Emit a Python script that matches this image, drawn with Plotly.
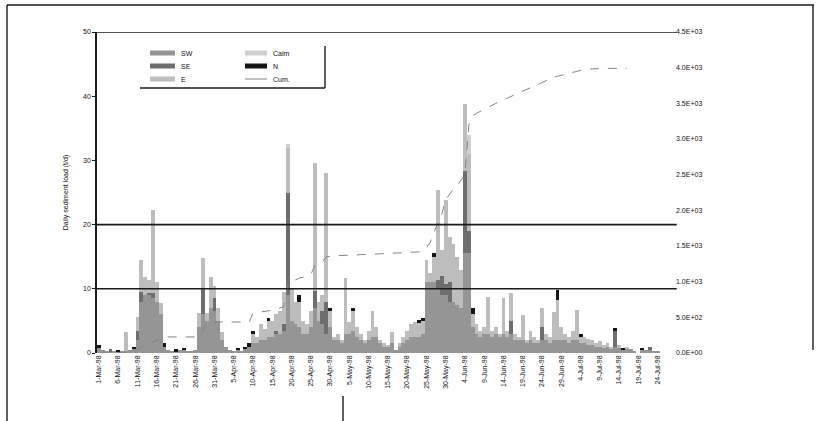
import plotly.graph_objects as go

# ---------------- data ----------------
n_days = 150
days = list(range(n_days))

tick_idx = list(range(0, 150, 5))
tick_labels = ["1-Mar-98", "6-Mar-98", "11-Mar-98", "16-Mar-98", "21-Mar-98", "26-Mar-98",
               "31-Mar-98", "5-Apr-98", "10-Apr-98", "15-Apr-98", "20-Apr-98", "25-Apr-98",
               "30-Apr-98", "5-May-98", "10-May-98", "15-May-98", "20-May-98", "25-May-98",
               "30-May-98", "4-Jun-98", "9-Jun-98", "14-Jun-98", "19-Jun-98", "24-Jun-98",
               "29-Jun-98", "4-Jul-98", "9-Jul-98", "14-Jul-98", "19-Jul-98", "24-Jul-98"]

s1 = [0.8, 0.4, 0.2, 0.3, 0.3, 0.3, 0.2, 0.3, 0.5, 0.6,
      2.0, 8, 9, 9, 8.5, 8, 6, 1.0, 0.5, 0.2,
      0.3, 0.4, 0.4, 0.3, 0.2, 0.5, 4, 6, 5, 7,
      6.5, 5, 2, 1, 0.4, 0.2, 0.4, 0.3, 0.6, 1,
      1.5, 1.5, 2, 2, 2.5, 2.5, 3, 3, 3.5, 9,
      5, 4.5, 4, 3, 3, 4, 7, 5, 4.5, 3,
      4, 2, 2, 1.5, 3, 3, 3.5, 2.5, 2, 1.5,
      2, 2.5, 2.5, 1.5, 1, 1, 1.5, 0.5, 1, 1.5,
      2, 2.5, 2.5, 2.5, 3, 11, 11, 11, 10, 9,
      9, 8, 8, 7.5, 7, 15.6, 15.6, 4, 3, 2.5,
      3, 3, 2.5, 3, 2.5, 3, 2.5, 3, 2, 2,
      2, 1.5, 2, 1.5, 1.5, 2, 2, 1.5, 2, 2,
      2, 2, 1.5, 2, 2, 1.5, 1.5, 1.2, 1.2, 1,
      1, 0.8, 1, 0.7, 1, 0.8, 0.5, 0.6, 0.6, 0.3,
      0, 0.5, 0.5, 0.4, 0.3, 0.2, 0, 0, 0, 0]

s2 = [0, 0, 0, 0.3, 0, 0, 0, 0, 0, 0,
      1.5, 1.5, 0, 0.4, 0.8, 0, 0, 0, 0, 0,
      0, 0, 0, 0, 0, 0, 0, 4, 0, 0,
      2, 0, 0, 0, 0, 0, 0, 0, 0, 0,
      0, 0, 0, 0, 0, 0, 0.5, 0, 1, 16,
      0, 0, 0, 0, 0, 0, 2.6, 0, 2, 5,
      0, 0, 0, 0, 0, 0, 0, 0, 0, 0,
      0, 0, 0, 0, 0, 0, 0, 0, 0, 0,
      0, 0, 0, 0, 0, 0, 0, 0, 1.4, 3,
      1.8, 3, 0, 0, 0, 12.8, 3.4, 0, 0, 0,
      0, 0, 0, 0, 0, 0, 0, 2, 0, 0,
      0, 0, 0, 0, 0, 2, 0, 0, 0, 0,
      0, 0, 0, 0, 0, 0, 0, 0, 0, 0,
      0, 0, 0, 0, 2.4, 0, 0, 0, 0, 0,
      0, 0, 0, 0.6, 0, 0, 0, 0, 0, 0]

s3 = [0, 0, 0, 0, 0, 0, 0, 3.0, 0, 0,
      2.1, 5, 2.8, 2.0, 13, 3, 1.8, 0, 0, 0,
      0, 0, 0, 0, 0, 0, 2.2, 4.8, 1.2, 4.8,
      2, 2, 1.3, 0, 0, 0, 0, 0, 0, 0,
      1.5, 1, 2.5, 1.8, 2.5, 2.5, 2.5, 3.5, 5, 7,
      5, 3.5, 4, 2, 1.5, 2.5, 20, 3, 2.5, 20,
      2.5, 0.5, 1, 0.5, 8.7, 1.8, 3, 1.5, 1, 0.5,
      1.5, 4, 1.5, 0.5, 0.5, 0.2, 1.8, 0, 0.5, 1,
      1.5, 2, 2.3, 2.2, 2, 3.5, 1.5, 4, 14, 4,
      13, 7, 9, 7.5, 6, 10.4, 12, 2, 1.5, 1,
      1, 5.7, 1, 1, 0.5, 5.6, 1, 4.3, 1, 0.5,
      3.9, 0.5, 1.5, 1, 0.5, 3, 1, 1, 4.4, 6.3,
      2, 1, 1, 1.5, 4.7, 1, 1, 1, 0.8, 0.5,
      0.8, 0.4, 0.5, 0.3, 0, 0.4, 0, 0.4, 0, 0,
      0, 0, 0, 0, 0, 0, 0, 0, 0, 0]

s4 = [0, 0, 0, 0, 0, 0, 0, 0, 0, 0,
      0, 0, 0, 0, 0, 0, 0, 0, 0, 0,
      0, 0, 0, 0, 0, 0, 0, 0, 0, 0,
      0, 0, 0, 0, 0, 0, 0, 0, 0, 0,
      0, 0, 0, 0, 0, 0, 0, 0, 0, 0.5,
      0, 0, 0, 0, 0, 0, 0, 0, 0, 0,
      0, 0, 0, 0, 0, 0, 0, 0, 0, 0,
      0, 0, 0, 0, 0, 0, 0, 0, 0, 0,
      0, 0, 0, 0, 0, 0, 0, 0, 0, 0,
      0, 0, 0, 0, 0, 0, 3, 0, 0, 0,
      0, 0, 0, 0, 0, 0, 0, 0, 0, 0,
      0, 0, 0, 0, 0, 0, 0, 0, 0, 0,
      0, 0, 0, 0, 0, 0, 0, 0, 0, 0,
      0, 0, 0, 0, 0, 0, 0, 0, 0, 0,
      0, 0, 0, 0, 0, 0, 0, 0, 0, 0]

s5 = [0.4, 0, 0, 0, 0, 0.2, 0, 0, 0, 0.4,
      0, 0, 0, 0, 0, 0, 0, 0.5, 0, 0,
      0.3, 0, 0.4, 0, 0, 0, 0, 0, 0, 0,
      0, 0, 0, 0, 0, 0, 0.4, 0, 0.4, 0.5,
      0.5, 0, 0, 0, 0.5, 0, 0, 0, 0, 0,
      0, 0, 1, 0, 0, 0, 0, 0, 0, 0,
      0.5, 0, 0, 0, 0, 0, 0.5, 0, 0, 0,
      0, 0, 0, 0, 0, 0, 0, 0, 0, 0,
      0, 0, 0, 0.5, 0.5, 0, 0, 0.5, 0, 0,
      0, 0, 0, 0, 0, 0, 0, 1, 0, 0,
      0, 0, 0, 0, 0, 0, 0, 0, 0, 0,
      0, 0, 0, 0, 0, 0, 0, 0, 0, 1.5,
      0, 0, 0, 0, 0, 0.5, 0, 0, 0, 0,
      0, 0, 0, 0, 0.5, 0, 0.3, 0, 0, 0,
      0, 0.3, 0, 0, 0, 0, 0, 0, 0, 0]

cumulative = [0, 0, 0, 0, 0, 0, 0, 0, 10, 25,
              50, 75, 100, 125, 150, 175, 210, 225, 225, 225,
              225, 225, 225, 225, 225, 225, 250, 325, 435, 435,
              435, 435, 435, 435, 435, 435, 435, 435, 435, 435,
              560, 575, 575, 580, 590, 600, 610, 625, 650, 950,
              1000, 1025, 1050, 1060, 1075, 1100, 1225, 1250, 1275, 1350,
              1360, 1360, 1365, 1365, 1370, 1370, 1375, 1375, 1380, 1380,
              1385, 1385, 1390, 1390, 1395, 1395, 1400, 1400, 1405, 1405,
              1410, 1410, 1415, 1415, 1420, 1475, 1550, 1700, 1825, 1950,
              2150, 2225, 2300, 2350, 2425, 2500, 3200, 3325, 3360, 3390,
              3420, 3450, 3475, 3500, 3525, 3550, 3575, 3600, 3625, 3650,
              3675, 3700, 3725, 3750, 3775, 3800, 3825, 3850, 3865, 3880,
              3895, 3910, 3925, 3940, 3950, 3965, 3975, 3980, 3985, 3985,
              3990, 3990, 3990, 3990, 3990, 3990, 3990, 3990, None, None,
              None, None, None, None, None, None, None, None, None, None]

series_names = ["SW", "SE", "E", "Calm", "N", "Cum."]
y_title = "Daily sediment load (t/d)"
limits = [10, 20, 50]

left_ticks = [0, 10, 20, 30, 40, 50]
right_ticks = [0, 500, 1000, 1500, 2000, 2500, 3000, 3500, 4000, 4500]
right_labels = ["0.0E+00", "5.0E+02", "1.0E+03", "1.5E+03", "2.0E+03",
                "2.5E+03", "3.0E+03", "3.5E+03", "4.0E+03", "4.5E+03"]

# ---------------- figure ----------------
FONT = "Liberation Sans, Arial, sans-serif"
INK = "#111111"
colors = ["#959595", "#6e6e6e", "#bdbdbd", "#cfcfcf", "#161616"]
line_color = "#858585"

fig = go.Figure()
stack = [s1, s2, s3, s4, s5]
for vals, name, col in zip(stack, series_names[:5], colors):
    fig.add_trace(go.Bar(x=days, y=vals, name=name,
                         marker=dict(color=col, line=dict(width=0))))

fig.add_trace(go.Scatter(x=days, y=cumulative, name=series_names[5], mode="lines",
                         line=dict(color=line_color, width=1, dash="dash"),
                         yaxis="y2", connectgaps=False))

for lv in limits:
    fig.add_shape(type="line", xref="paper", yref="y", x0=0, x1=1.003, y0=lv, y1=lv,
                  line=dict(color="#1a1a1a", width=1.6 if lv != 50 else 1.4))

# ---- compact two-column legend (swatches + real text) ----
W, H = 578.0, 321.0       # plot area size in px
def px(xp):
    return (xp - 97) / W
def py(yp):
    return (353 - yp) / H

rows_y = [53, 66, 79]
cols = [(150, 175, 179), (245, 267, 271)]
entries = [(0, 0), (1, 0), (2, 0), (0, 1), (1, 1), (2, 1)]   # (row, col) per series
for k, (r, c) in enumerate(entries):
    x0, x1, xt = cols[c]
    yc = rows_y[r]
    if k < 5:
        fig.add_shape(type="rect", xref="paper", yref="paper",
                      x0=px(x0), x1=px(x1), y0=py(yc + 2.5), y1=py(yc - 2.5),
                      fillcolor=colors[k], line=dict(width=0))
    else:
        fig.add_shape(type="line", xref="paper", yref="paper",
                      x0=px(x0), x1=px(x1), y0=py(yc), y1=py(yc),
                      line=dict(color=line_color, width=1))
    fig.add_annotation(xref="paper", yref="paper", x=px(xt), y=py(yc),
                       text=series_names[k], showarrow=False, xanchor="left",
                       yanchor="middle", font=dict(size=7, color=INK, family=FONT))

# legend frame (right and bottom edges)
fig.add_shape(type="line", xref="paper", yref="paper", x0=px(325), x1=px(325),
              y0=py(88), y1=py(46), line=dict(color="#1a1a1a", width=1.4))
fig.add_shape(type="line", xref="paper", yref="paper", x0=px(140), x1=px(325),
              y0=py(88), y1=py(88), line=dict(color="#1a1a1a", width=1.4))

# outer frame of the picture
frame = [((7, 5), (814, 5)), ((7, 5), (7, 421)), ((813, 5), (813, 350)), ((343, 396), (343, 421))]
for (xa, ya), (xb, yb) in frame:
    fig.add_shape(type="line", xref="paper", yref="paper", x0=px(xa), x1=px(xb),
                  y0=py(ya), y1=py(yb), line=dict(color="#1a1a1a", width=1.4))

fig.update_layout(
    template="none",
    width=820, height=421,
    margin=dict(l=97, r=145, t=32, b=68, pad=0),
    paper_bgcolor="white", plot_bgcolor="white",
    barmode="stack", bargap=0,
    font=dict(family=FONT, size=7, color=INK),
    showlegend=False,
    xaxis=dict(type="linear", range=[-0.5, n_days - 0.5], tickmode="array",
               tickvals=tick_idx, ticktext=tick_labels, tickangle=-90,
               showgrid=False, zeroline=False, showline=False, ticks="",
               tickfont=dict(size=7, color=INK), automargin=False),
    yaxis=dict(range=[0, 50], tickmode="array", tickvals=left_ticks,
               showgrid=False, zeroline=False, showline=True, linecolor="#1a1a1a", linewidth=1.6,
               ticks="outside", ticklen=3, tickcolor="#1a1a1a", tickfont=dict(size=7, color=INK),
               automargin=False,
               title=dict(text=y_title, font=dict(size=7, color=INK), standoff=14)),
    yaxis2=dict(range=[0, 4500], overlaying="y", side="right", tickmode="array",
                tickvals=right_ticks, ticktext=right_labels, showgrid=False,
                zeroline=False, showline=False, ticks="", tickfont=dict(size=7, color=INK),
                automargin=False),
)

fig.write_html("out.html", config={"displayModeBar": False},
               post_script="document.body.style.margin='0px';")
